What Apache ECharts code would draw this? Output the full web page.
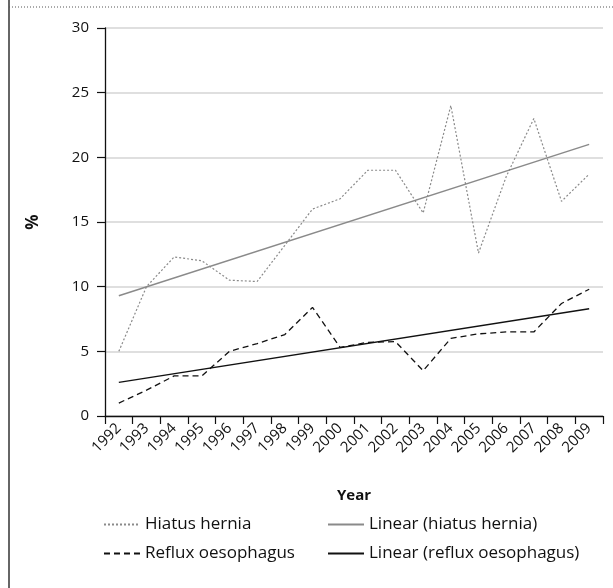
<!DOCTYPE html>
<html><head><meta charset="utf-8">
<script src="https://cdn.jsdelivr.net/npm/echarts@6/dist/echarts.min.js"></script>
<style>html,body{margin:0;padding:0;background:#fff}#c{width:613px;height:588px}</style>
</head><body><div id="c"></div>
<script>
const years = ['1992','1993','1994','1995','1996','1997','1998','1999','2000','2001','2002','2003','2004','2005','2006','2007','2008','2009'];
const hiatusHernia = [5.0,10.0,12.3,12.0,10.5,10.4,13.2,16.0,16.8,19.0,19.0,15.7,24.0,12.6,18.5,23.0,16.6,18.7];
const refluxOesophagus = [1.0,2.0,3.1,3.1,5.0,5.6,6.3,8.4,5.3,5.7,5.75,3.5,6.0,6.35,6.5,6.5,8.7,9.8];
const linearHiatusEnds = [9.3,21.0];
const linearRefluxEnds = [2.6,8.3];
const yTicks = [0,5,10,15,20,25,30];

function trend(ends){ const a = years.map(()=>null); a[0]=ends[0]; a[a.length-1]=ends[1]; return a; }
const font = 'Open Sans';
const chart = echarts.init(document.getElementById('c'));
const legendCommon = {top:511,orient:'vertical',itemWidth:36,itemHeight:14,itemGap:12,
  itemStyle:{opacity:0},
  textStyle:{fontSize:17,color:'#111',fontFamily:font}};
chart.setOption({
  animation:false,
  textStyle:{fontFamily:font},
  grid:{left:105,right:10,top:28,bottom:172},
  xAxis:{type:'category',data:years,boundaryGap:true,
    name:'Year',nameLocation:'middle',nameGap:72,
    nameTextStyle:{fontFamily:font,fontWeight:'bold',fontSize:15,color:'#111'},
    axisLine:{lineStyle:{color:'#111',width:1.3}},
    axisTick:{show:true,length:8,alignWithLabel:false,lineStyle:{color:'#111',width:1.2}},
    axisLabel:{rotate:45,margin:10,fontSize:15,color:'#111',interval:0}
  },
  yAxis:{type:'value',min:yTicks[0],max:yTicks[yTicks.length-1],interval:5,
    name:'%',nameLocation:'middle',nameGap:63,nameRotate:90,
    nameTextStyle:{fontFamily:font,fontWeight:'bold',fontSize:17,color:'#111'},
    axisLine:{show:true,lineStyle:{color:'#111',width:1.3}},
    axisTick:{show:true,length:8,lineStyle:{color:'#111',width:1.2}},
    axisLabel:{margin:16,fontSize:15,color:'#111'},
    splitLine:{lineStyle:{color:'#d4d4d4',width:1.5}}
  },
  legend:[
    Object.assign({left:98,data:['Hiatus hernia','Reflux oesophagus']},legendCommon),
    Object.assign({left:322,data:['Linear (hiatus hernia)','Linear (reflux oesophagus)']},legendCommon)
  ],
  graphic:[
    {type:'line',shape:{x1:9,y1:0,x2:9,y2:588},style:{stroke:'#333',lineWidth:1.5}},
    {type:'line',shape:{x1:9,y1:7,x2:613,y2:7},style:{stroke:'#555',lineWidth:1,lineDash:[1,2]}}
  ],
  series:[
    {name:'Hiatus hernia',type:'line',data:hiatusHernia,symbol:'none',
     lineStyle:{color:'#8a8a8a',width:1.2,type:[2,2]},itemStyle:{color:'#8a8a8a'}},
    {name:'Reflux oesophagus',type:'line',data:refluxOesophagus,symbol:'none',
     lineStyle:{color:'#111',width:1.3,type:[6,4]},itemStyle:{color:'#111'}},
    {name:'Linear (hiatus hernia)',type:'line',data:trend(linearHiatusEnds),connectNulls:true,symbol:'none',
     lineStyle:{color:'#8a8a8a',width:1.5},itemStyle:{color:'#8a8a8a'}},
    {name:'Linear (reflux oesophagus)',type:'line',data:trend(linearRefluxEnds),connectNulls:true,symbol:'none',
     lineStyle:{color:'#111',width:1.5},itemStyle:{color:'#111'}}
  ]
});
</script></body></html>
